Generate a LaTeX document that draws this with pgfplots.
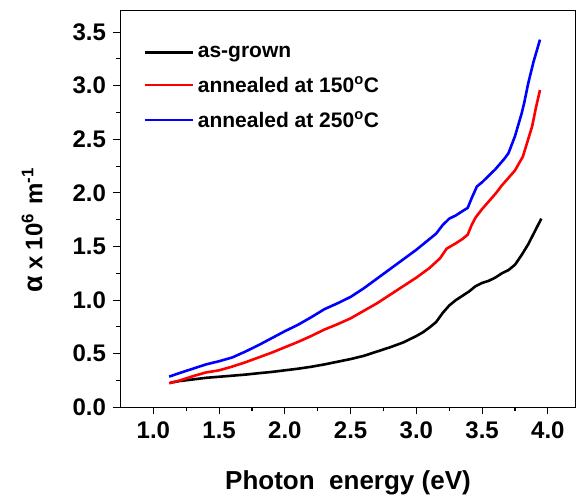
\documentclass[border=0pt]{standalone}
\usepackage{fontspec}
\setmainfont{Liberation Sans}
\usepackage{pgfplots}
\pgfplotsset{compat=1.18}

\begin{document}
\begin{tikzpicture}
\begin{axis}[
  at={(0pt,0pt)}, anchor=south west,
  scale only axis, width=455pt, height=396.6pt,
  xmin=0.75, xmax=4.21, ymin=0, ymax=3.7,
  xtick={1.0,1.5,...,4.0}, ytick={0,0.5,...,3.5},
  minor x tick num=1, minor y tick num=1,
  tick pos=left, tick align=outside,
  major tick length=7pt, minor tick length=4pt,
  axis line style={line width=1.3pt},
  every tick/.style={line width=1.1pt, black},
  /pgf/number format/assume math mode=true,
  /pgf/number format/fixed, /pgf/number format/fixed zerofill,
  /pgf/number format/precision=1,
  ticklabel style={font=\fontsize{24}{28}\selectfont\bfseries},
  xticklabel style={yshift=-4pt},
  yticklabel style={xshift=-4pt},
  xlabel={Photon\ \ energy (eV)},
  ylabel={{\fontsize{27}{30}\selectfont α}\hspace{6pt}x\hspace{6pt}10\textsuperscript{6}\hspace{9pt}m\textsuperscript{-1}},
  xlabel style={font=\fontsize{26}{30}\selectfont\bfseries, at={(axis description cs:0.5,0)}, yshift=-76pt, anchor=center},
  ylabel style={font=\fontsize{24}{28}\selectfont\bfseries, at={(axis description cs:-0.194,0.447)}, anchor=center},
  legend style={draw=none, fill=none, at={(rel axis cs:0.043,0.922)}, anchor=north west,
    font=\fontsize{21}{25}\selectfont\bfseries, row sep=14pt,
    nodes={inner xsep=4pt}},
  legend cell align=left,
  legend image code/.code={\draw[#1] (0pt,0pt) -- (48pt,0pt);},
  every axis plot/.append style={line width=2.6pt},
]
\addplot[black] coordinates {
(1.13,0.23) (1.2,0.245) (1.3,0.26) (1.4,0.275) (1.5,0.285) (1.6,0.295)
(1.7,0.305) (1.8,0.318) (1.9,0.33) (2.0,0.345) (2.1,0.36) (2.2,0.378)
(2.3,0.40) (2.4,0.425) (2.5,0.45) (2.6,0.48) (2.7,0.52) (2.8,0.56)
(2.9,0.605) (3.0,0.665) (3.05,0.70) (3.1,0.745) (3.15,0.795) (3.2,0.88)
(3.25,0.95) (3.3,1.0) (3.35,1.04) (3.4,1.08) (3.45,1.13) (3.5,1.16)
(3.55,1.18) (3.6,1.21) (3.65,1.25) (3.7,1.28) (3.75,1.33) (3.8,1.42)
(3.85,1.52) (3.9,1.64) (3.95,1.76)
};
\addplot[red] coordinates {
(1.12,0.224) (1.2,0.25) (1.3,0.29) (1.4,0.325) (1.5,0.345) (1.6,0.38)
(1.7,0.42) (1.8,0.465) (1.9,0.51) (2.0,0.56) (2.1,0.61) (2.2,0.665)
(2.3,0.725) (2.4,0.775) (2.5,0.83) (2.6,0.90) (2.7,0.97) (2.8,1.05)
(2.9,1.13) (3.0,1.21) (3.1,1.30) (3.18,1.39) (3.23,1.48) (3.3,1.53)
(3.35,1.57) (3.39,1.61) (3.42,1.70) (3.45,1.77) (3.5,1.85) (3.55,1.92)
(3.6,1.99) (3.65,2.07) (3.7,2.14) (3.75,2.21) (3.81,2.34) (3.85,2.50)
(3.88,2.62) (3.91,2.80) (3.94,2.96)
};
\addplot[blue] coordinates {
(1.12,0.286) (1.2,0.32) (1.3,0.36) (1.4,0.40) (1.5,0.43) (1.6,0.465)
(1.7,0.52) (1.8,0.58) (1.9,0.645) (2.0,0.71) (2.1,0.77) (2.2,0.84)
(2.3,0.915) (2.4,0.97) (2.5,1.03) (2.6,1.11) (2.7,1.20) (2.8,1.29)
(2.9,1.38) (3.0,1.47) (3.1,1.57) (3.15,1.62) (3.2,1.70) (3.25,1.76)
(3.3,1.79) (3.35,1.83) (3.39,1.86) (3.42,1.95) (3.46,2.06) (3.5,2.10)
(3.55,2.16) (3.6,2.22) (3.67,2.32) (3.7,2.37) (3.75,2.53) (3.8,2.74)
(3.82,2.84) (3.85,3.02) (3.89,3.22) (3.94,3.43)
};
\legend{as-grown, annealed at 150\textsuperscript{o}C, annealed at 250\textsuperscript{o}C}
\end{axis}
\pgfresetboundingbox
\path[use as bounding box] (-120.5pt,-88.7pt) rectangle (455.5pt,407.3pt);
\end{tikzpicture}
\end{document}
